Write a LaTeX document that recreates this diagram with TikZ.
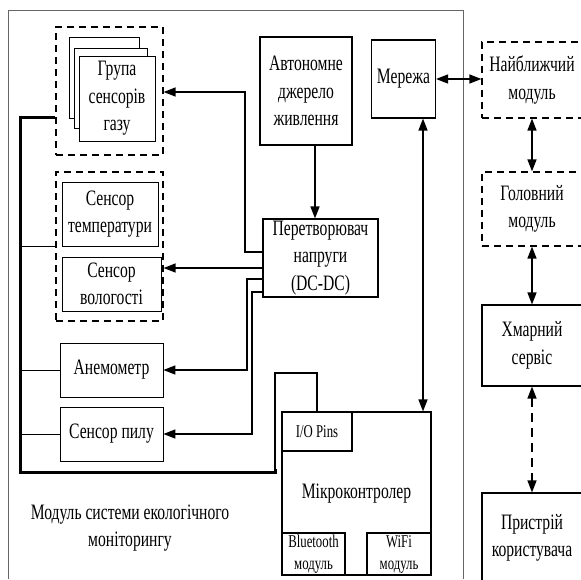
\documentclass[tikz,border=0pt]{standalone}
\usepackage{fontspec}
\setmainfont{Liberation Serif}[FakeStretch=0.71]
\usetikzlibrary{arrows.meta}

\tikzset{
  box/.style={draw, line width=1.1pt, inner sep=0pt, align=center},
  sbox/.style={draw, line width=0.8pt, inner sep=0pt, align=center},
  grp/.style={draw, line width=1.2pt, dash pattern=on 7pt off 5pt, inner sep=0pt, align=center},
  arr/.style={line width=1.4pt, -{Triangle[length=12pt,width=9pt]}},
  darr/.style={line width=1.4pt, {Triangle[length=12pt,width=9pt]}-{Triangle[length=12pt,width=9pt]}},
  bus/.style={line width=3pt},
  tap/.style={line width=0.8pt},
  txt/.style={font=\fontsize{22}{27.5}\selectfont},
  small/.style={font=\fontsize{18}{22}\selectfont}
}

\begin{document}
\begin{tikzpicture}[x=1pt, y=-1pt, txt]

    \useasboundingbox (0,0) rectangle (581,579);

    % Frame of the module
    \draw[gray!80!black, line width=0.7pt] (8,579) |- (463,10) -- (463,579);

    % Gas sensors
    \node[grp, minimum width=107pt, minimum height=128pt] (gasgrp) at (109.5,91) {};
    \draw[line width=0.8pt, fill=white] (69,37) rectangle (139,118);
    \draw[line width=0.8pt, fill=white] (74,48) rectangle (147,128);
    \node[sbox, fill=white, minimum width=76pt, minimum height=85pt] (gas) at (117,98.5) {Група\\сенсорів\\газу};

    % Temperature and humidity
    \node[grp, minimum width=107pt, minimum height=149pt] (thgrp) at (109.5,246.5) {};
    \node[sbox, minimum width=96pt, minimum height=64pt] (temp) at (110,214) {Сенсор\\температури};
    \node[sbox, minimum width=99pt, minimum height=54pt] (hum) at (111.5,284) {Сенсор\\вологості};

    %% Other sensors
    \node[sbox, minimum width=103pt, minimum height=54pt] (anem) at (111.5,370) {Анемометр};
    \node[sbox, minimum width=103pt, minimum height=54pt] (dust) at (111.5,434) {Сенсор пилу};

    % Power
    \node[box, minimum width=92pt, minimum height=108pt] (power) at (306,91) {Автономне\\джерело\\живлення};
    \node[box, minimum width=115pt, minimum height=78pt] (conv) at (320.5,258) {Перетворювач\\напруги\\(DC-DC)};
    \node[box, minimum width=64pt, minimum height=78pt] (net) at (403.5,79) {Мережа};

    % Microcontroller
    \node[box, minimum width=149pt, minimum height=163pt] (mcu) at (356.5,493.5) {Мікроконтролер};
    \node[box, small, minimum width=70pt, minimum height=39pt] (io) at (317,431.5) {I/O Pins};
    \node[box, small, minimum width=63pt, minimum height=42pt] (bt) at (313.5,554) {Bluetooth\\модуль};
    \node[box, small, minimum width=64pt, minimum height=42pt] (wifi) at (399,554) {WiFi\\модуль};

    % Outside the module
    \node[grp, minimum width=100pt, minimum height=76pt] (near) at (532,80) {Найближчий\\модуль};
    \node[grp, minimum width=100pt, minimum height=74pt] (head) at (532,209) {Головний\\модуль};
    \node[box, minimum width=100pt, minimum height=81pt] (cloud) at (532,345.5) {Хмарний\\сервіс};
    \node[box, minimum width=100pt, minimum height=90pt] (user) at (532,538) {Пристрій\\користувача};

    \node[align=center] (label) at (130,528) {Модуль системи екологічного\\моніторингу};

    % Sensor bus
    \draw[bus] (gasgrp.west |- 0,117) -| (20,472) -| (275,469);
    \draw[line width=1.3pt] (275,473) |- (317,373) -- (io.north);
    \draw[tap] (20,246) -- (thgrp.west |- 0,246);
    \draw[tap] (20,370) -- (anem.west);
    \draw[tap] (20,434) -- (dust.west);

    % Supply lines
    \draw[arr] (power.south -| 315,0) -- (conv.north -| 315,0);
    \draw[arr] (conv.west |- 0,252) -| (245,92) -- (gasgrp.east |- 0,92);
    \draw[arr] (conv.west |- 0,268) -- (thgrp.east |- 0,268);
    \draw[arr] (conv.west |- 0,279) -| (247,370) -- (anem.east);
    \draw[arr] (conv.west |- 0,292) -| (252,434) -- (dust.east);

    % Data links
    \draw[darr] (mcu.north -| 423,0) -- (net.south -| 423,0);
    \draw[darr] (net.east) -- (near.west |- net.east);
    \draw[darr] (near.south) -- (head.north);
    \draw[darr] (head.south) -- (cloud.north);
    \draw[darr, dash pattern=on 9pt off 6pt] (cloud.south) -- (user.north);

\end{tikzpicture}
\end{document}
